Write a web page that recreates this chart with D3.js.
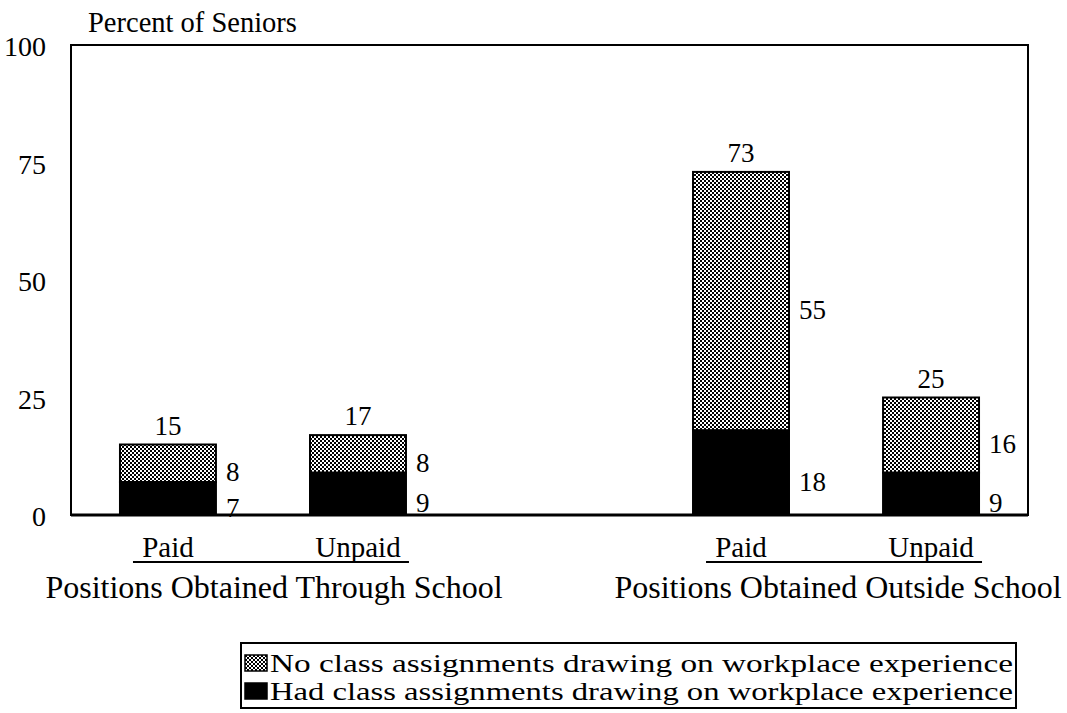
<!DOCTYPE html>
<html>
<head>
<meta charset="utf-8">
<script src="https://d3js.org/d3.v7.min.js"></script>
<style>
	body { margin: 0; background: #fff; }
	svg text { font-family: "Liberation Serif", "DejaVu Serif", serif; fill: #000; }
</style>
</head>
<body>
<div id="chart"></div>
<script>
var groups = ["Positions Obtained Through School", "Positions Obtained Outside School"];
var kinds = ["Paid", "Unpaid"];
var hadAssign = [7, 9, 18, 9];
var noAssign = [8, 8, 55, 16];
var totals = [15, 17, 73, 25];
var yTicks = [0, 25, 50, 75, 100];
var legendLabels = ["No class assignments drawing on workplace experience",
	"Had class assignments drawing on workplace experience"];

var width = 1067, height = 713;
var frame = {left: 71, top: 45, right: 1028, bottom: 515};

var svg = d3.select("#chart").append("svg")
	.attr("width", width)
	.attr("height", height);

var defs = svg.append("defs");
var pat = defs.append("pattern")
	.attr("id", "dots")
	.attr("width", 4)
	.attr("height", 4)
	.attr("patternUnits", "userSpaceOnUse");
pat.append("rect").attr("width", 4).attr("height", 4).attr("fill", "#fff");
pat.append("rect").attr("width", 2).attr("height", 2).attr("fill", "#000");
pat.append("rect").attr("x", 2).attr("y", 2).attr("width", 2).attr("height", 2).attr("fill", "#000");

var rows = totals.map(function(t, i) {
	return {group: groups[Math.floor(i / 2)], kind: kinds[i % 2], had: hadAssign[i], no: noAssign[i], total: t};
});

var x0 = d3.scalePoint()
	.domain(groups)
	.range([frame.left, frame.right])
	.padding(0.335);
var x1 = d3.scaleBand()
	.domain(kinds)
	.range([-143, 143])
	.paddingInner(0.495);
var y = d3.scaleLinear()
	.domain([0, 100])
	.range([frame.bottom, frame.top]);

function barX(d) { return x0(d.group) + x1(d.kind); }

// frame
svg.append("rect")
	.attr("x", frame.left)
	.attr("y", frame.top)
	.attr("width", frame.right - frame.left)
	.attr("height", frame.bottom - frame.top)
	.attr("fill", "none")
	.attr("stroke", "#000")
	.attr("stroke-width", 2);

// y axis labels, no ticks
var yAxis = svg.append("g")
	.attr("transform", "translate(" + frame.left + ",0)")
	.call(d3.axisLeft(y).tickValues(yTicks).tickSize(0).tickPadding(25));
yAxis.attr("font-family", null).attr("font-size", null);
yAxis.select(".domain").remove();
yAxis.selectAll("text")
	.style("font-size", "28px")
	.attr("dy", "0.38em")
	.attr("fill", "#000");

svg.append("text")
	.attr("x", 88)
	.attr("y", 32)
	.style("font-size", "28.5px")
	.text("Percent of Seniors");

// bars
var bars = svg.selectAll(".bar")
	.data(rows)
	.enter()
	.append("g")
	.attr("class", "bar");

bars.append("rect")
	.attr("x", barX)
	.attr("y", function(d) { return y(d.total); })
	.attr("width", x1.bandwidth())
	.attr("height", function(d) { return y(d.had) - y(d.total); })
	.attr("fill", "url(#dots)")
	.attr("stroke", "#000")
	.attr("stroke-width", 2);

bars.append("rect")
	.attr("x", barX)
	.attr("y", function(d) { return y(d.had); })
	.attr("width", x1.bandwidth())
	.attr("height", function(d) { return y(0) - y(d.had); })
	.attr("fill", "#000")
	.attr("stroke", "#000")
	.attr("stroke-width", 2);

bars.append("text")
	.attr("x", function(d) { return barX(d) + x1.bandwidth() / 2; })
	.attr("y", function(d) { return y(d.total) - 10; })
	.attr("text-anchor", "middle")
	.style("font-size", "27px")
	.text(function(d) { return d.total; });

bars.append("text")
	.attr("x", function(d) { return barX(d) + x1.bandwidth() + 10; })
	.attr("y", function(d) { return (y(d.total) + y(d.had)) / 2 + 18; })
	.style("font-size", "27px")
	.text(function(d) { return d.no; });

bars.append("text")
	.attr("x", function(d) { return barX(d) + x1.bandwidth() + 10; })
	.attr("y", function(d) { return (y(d.had) + y(0)) / 2 + 18; })
	.style("font-size", "27px")
	.text(function(d) { return d.had; });

// baseline
svg.append("line")
	.attr("x1", frame.left)
	.attr("x2", frame.right)
	.attr("y1", frame.bottom)
	.attr("y2", frame.bottom)
	.attr("stroke", "#000")
	.attr("stroke-width", 3);

// category + group labels
bars.append("text")
	.attr("x", function(d) { return barX(d) + x1.bandwidth() / 2; })
	.attr("y", 557)
	.attr("text-anchor", "middle")
	.style("font-size", "29px")
	.text(function(d) { return d.kind; });

var grp = svg.selectAll(".grp")
	.data(groups)
	.enter()
	.append("g")
	.attr("class", "grp");

grp.append("line")
	.attr("x1", function(g) { return x0(g) + x1("Paid") + 13; })
	.attr("x2", function(g) { return x0(g) + x1("Unpaid") + x1.bandwidth() + 3; })
	.attr("y1", 562)
	.attr("y2", 562)
	.attr("stroke", "#000")
	.attr("stroke-width", 2);

grp.append("text")
	.attr("x", function(g, i) { return x0(g) + (i === 0 ? 11 : 2); })
	.attr("y", 598)
	.attr("text-anchor", "middle")
	.style("font-size", "32px")
	.text(function(g) { return g; });

// legend
var legend = svg.append("g");
legend.append("rect")
	.attr("x", 241)
	.attr("y", 643)
	.attr("width", 775)
	.attr("height", 65)
	.attr("fill", "#fff")
	.attr("stroke", "#000")
	.attr("stroke-width", 2);

var item = legend.selectAll(".item")
	.data(legendLabels)
	.enter()
	.append("g")
	.attr("transform", function(d, i) { return "translate(245," + (655 + i * 28) + ")"; });

item.append("rect")
	.attr("width", 22)
	.attr("height", 16)
	.attr("fill", function(d, i) { return i === 0 ? "url(#dots)" : "#000"; })
	.attr("stroke", "#000")
	.attr("stroke-width", 1.5);

item.append("text")
	.attr("x", 25)
	.attr("y", 17)
	.attr("textLength", 743)
	.attr("lengthAdjust", "spacingAndGlyphs")
	.style("font-size", "25px")
	.text(function(d) { return d; });
</script>
</body>
</html>
